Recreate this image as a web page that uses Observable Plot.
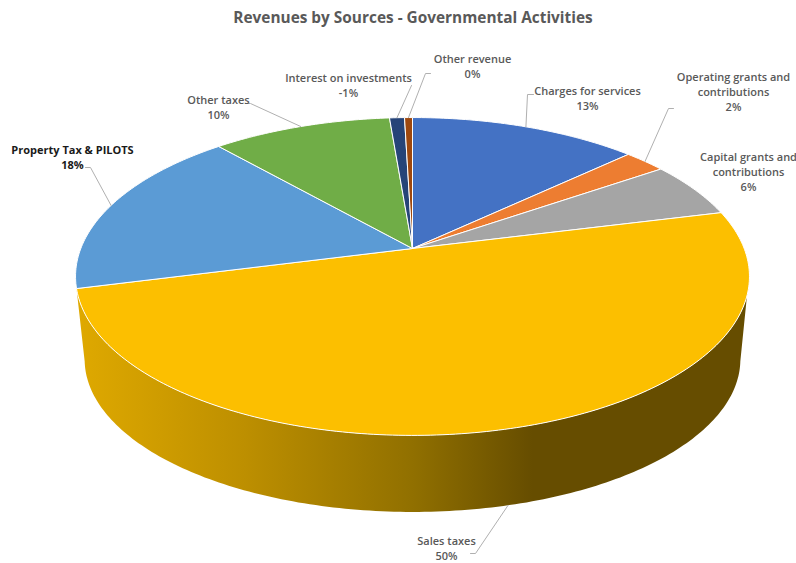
<!DOCTYPE html>
<html>
<head>
<meta charset="utf-8">
<script src="https://cdn.jsdelivr.net/npm/d3@7"></script>
<script src="https://cdn.jsdelivr.net/npm/@observablehq/plot@0.6"></script>
<style>
  html, body { margin: 0; padding: 0; background: #fff; }
  #title {
    height: 36px; text-align: center; box-sizing: border-box; padding-left: 30px;
    font: 700 15.4px/35px "Open Sans", sans-serif; color: #595959;
  }
  svg { display: block; }
</style>
</head>
<body>
<div id="title">Revenues by Sources - Governmental Activities</div>
<div id="chart"></div>
<script>
// Revenue sources, clockwise from twelve o'clock (percent of the total).
const sources = ["Charges for services", "Operating grants and\ncontributions", "Capital grants and\ncontributions",
  "Sales taxes", "Property Tax & PILOTS", "Other taxes", "Interest on investments", "Other revenue"];
const shares = [13.0, 2.4, 5.7, 49.9, 17.5, 10.2, -0.85, 0.45];
const colors = ["#4472c4", "#ed7d31", "#a5a5a5", "#fcbf00", "#5b9bd5", "#70ad47", "#264478", "#9e480e"];

// Where each label sits, and the elbow of its leader (null for no leader).
const labelX = [587, 733, 748, 446, 72, 218, 348, 472];
const labelY = [97, 91, 171, 547, 156, 106, 84, 65];
const elbows = [[[527, 94], [533, 94]], [[668, 108], [673, 108]], null, [[475, 553], [470, 553]],
  [[90, 167], [85, 167]], [[250, 103], [245, 103]], [[411, 85]], [[425, 73], [430, 73]]];

// Perspective view of the disc: the near side of the pie is drawn larger.
const view = {cx: 412, cy: 248, a: 331.7, b: 154, k: 0.176, depthY: 84, baseX: 0.973, baseY: 0.96};
const project = (fraction, base = false) => {
  const t = fraction * 2 * Math.PI;
  const s = Math.sin(t), c = Math.cos(t);
  const w = 1 + view.k * c;
  const X = view.a * s / w, Y = -view.b * c / w;
  return base
    ? {x: view.cx + X * view.baseX, y: view.cy + view.depthY + Y * view.baseY}
    : {x: view.cx + X, y: view.cy + Y};
};
const arc = (from, to, base) => {
  const n = Math.max(2, Math.ceil(Math.abs(to - from) * 400));
  return d3.range(n + 1).map(i => project(from + (to - from) * i / n, base));
};

const total = d3.sum(shares, Math.abs);
const bounds = d3.cumsum(shares, Math.abs).map(v => v / total);
const slices = sources.map((name, i) => {
  const from = i ? bounds[i - 1] : 0, to = bounds[i];
  const centre = {x: view.cx, y: view.cy};
  return {name, color: colors[i], mid: (from + to) / 2, points: [centre, ...arc(from, to), centre]};
});

// Rim of the sales slice: top edge from the right silhouette round the front,
// then back along the base, whose silhouette points lie slightly further round.
const salesIndex = sources.indexOf("Sales taxes");
const rim = [...arc(0.297, bounds[salesIndex]), ...arc(0.72, 0.28, true)];

const labels = sources.map((name, i) => ({
  text: `${name}\n${Math.round(shares[i])}%`, x: labelX[i], y: labelY[i],
  bold: name.startsWith("Property")
}));
const leaders = sources.flatMap((name, i) => elbows[i]
  ? [project(slices[i].mid, name === "Sales taxes"), ...elbows[i].map(([x, y]) => ({x, y}))].map(p => ({...p, name}))
  : []);

const rimGradient = () => {
  const defs = d3.create("svg:defs");
  const g = defs.append("linearGradient").attr("id", "rim-shade");
  [[0, "#dfa900"], [0.25, "#bd8f00"], [0.5, "#917000"], [0.68, "#664d00"], [1, "#664d00"]]
    .forEach(([o, c]) => g.append("stop").attr("offset", o).attr("stop-color", c));
  return defs.node();
};

const labelStyle = {x: "x", y: "y", text: "text", fontSize: 11, fontFamily: "Open Sans", lineHeight: 1.37, textAnchor: "middle"};

const chart = Plot.plot({
  width: 796, height: 527,
  margin: 0,
  x: {domain: [0, 796], range: [0, 796], axis: null},
  y: {domain: [36, 563], range: [0, 527], axis: null},
  style: {background: "#fff"},
  marks: [
    rimGradient,
    Plot.line(rim, {x: "x", y: "y", fill: "url(#rim-shade)", stroke: "none"}),
    ...slices.map(s => Plot.line(s.points, {x: "x", y: "y", fill: s.color, stroke: "#fff", strokeWidth: 1, strokeLinejoin: "round"})),
    Plot.line(leaders, {x: "x", y: "y", z: "name", stroke: "#b0b0b0", strokeWidth: 1}),
    Plot.text(labels.filter(d => !d.bold), {...labelStyle, fill: "#595959", fontWeight: 600}),
    Plot.text(labels.filter(d => d.bold), {...labelStyle, fill: "#1a1a1a", fontWeight: 700})
  ]
});
document.getElementById("chart").append(chart);
</script>
</body>
</html>
